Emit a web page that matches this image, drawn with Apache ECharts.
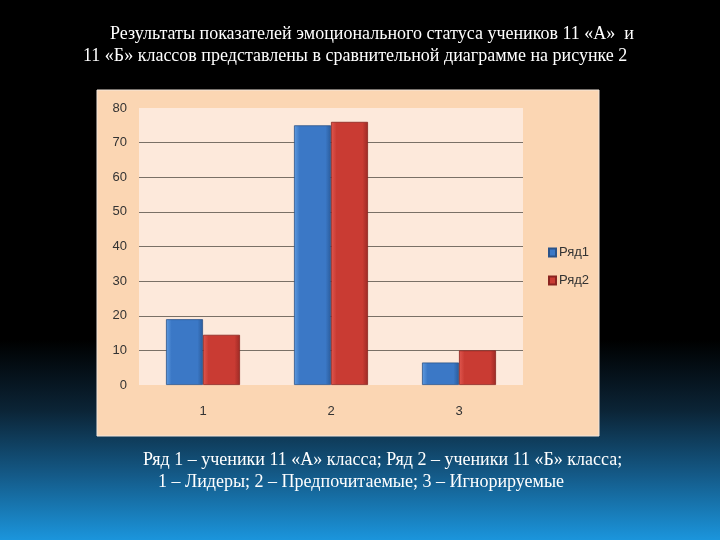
<!DOCTYPE html>
<html>
<head>
<meta charset="utf-8">
<script src="https://cdn.jsdelivr.net/npm/echarts@6/dist/echarts.min.js"></script>
<style>
html,body{margin:0;padding:0;width:720px;height:540px;overflow:hidden;background:#000;}
#c{width:720px;height:540px;}
</style>
</head>
<body>
<div id="c"></div>
<script>
var categories = ['1', '2', '3'];
var seriesNames = ['Ряд1', 'Ряд2'];
var row1 = [19, 75, 6.5];
var row2 = [14.5, 76, 10];
var yTicks = [0, 10, 20, 30, 40, 50, 60, 70, 80];
var titleLines = [
  'Результаты показателей эмоционального статуса учеников 11 «А»  и',
  '11 «Б» классов представлены в сравнительной диаграмме на рисунке 2'
];
var noteLines = [
  'Ряд 1 – ученики 11 «А» класса; Ряд 2 – ученики 11 «Б» класса;',
  '1 – Лидеры; 2 – Предпочитаемые; 3 – Игнорируемые'
];

var chart = echarts.init(document.getElementById('c'), null, {renderer: 'canvas'});

function grad(c1, c2, c3) {
  return new echarts.graphic.LinearGradient(0, 0, 1, 0, [
    {offset: 0, color: c1}, {offset: 0.15, color: c2}, {offset: 0.85, color: c2}, {offset: 1, color: c3}
  ]);
}

var gridColors = yTicks.map(function (v, i) {
  return (i === 0 || i === yTicks.length - 1) ? 'rgba(0,0,0,0)' : '#7a7066';
});

var option = {
  backgroundColor: new echarts.graphic.LinearGradient(0, 0, 0, 1, [
    {offset: 0, color: '#000000'},
    {offset: 0.63, color: '#000000'},
    {offset: 0.76, color: '#0b2436'},
    {offset: 0.88, color: '#145a88'},
    {offset: 1, color: '#1b95dc'}
  ]),
  animation: false,
  graphic: [
    {type: 'rect', z: -10, shape: {x: 97, y: 90, width: 502, height: 346}, style: {fill: '#fbd6b3', stroke: '#f3e6dc', lineWidth: 1}},
    {type: 'text', x: 110, y: 34, style: {text: titleLines[0], fill: '#ffffff', font: '18px "Liberation Serif"', verticalAlign: 'middle'}},
    {type: 'text', x: 83, y: 56, style: {text: titleLines[1], fill: '#ffffff', font: '18px "Liberation Serif"', verticalAlign: 'middle'}},
    {type: 'text', x: 143, y: 460, style: {text: noteLines[0], fill: '#ffffff', font: '18px "Liberation Serif"', verticalAlign: 'middle'}},
    {type: 'text', x: 158, y: 482, style: {text: noteLines[1], fill: '#ffffff', font: '18px "Liberation Serif"', verticalAlign: 'middle'}}
  ],
  legend: {
    orient: 'vertical',
    left: 543,
    top: 241,
    itemWidth: 7,
    itemHeight: 8,
    itemGap: 15,
    icon: 'rect',
    data: seriesNames,
    textStyle: {color: '#333', fontSize: 13, fontFamily: 'Liberation Sans', padding: [0, 0, 0, -2]}
  },
  grid: {
    left: 139, right: 197, top: 108, bottom: 155,
    show: true, backgroundColor: '#fde9db', borderWidth: 0
  },
  xAxis: {
    type: 'category',
    data: categories,
    axisLine: {show: false},
    axisTick: {show: false},
    axisLabel: {color: '#333', fontSize: 13, fontFamily: 'Liberation Sans', margin: 20}
  },
  yAxis: {
    type: 'value',
    min: yTicks[0],
    max: yTicks[yTicks.length - 1],
    interval: 10,
    axisLine: {show: false},
    axisTick: {show: false},
    axisLabel: {color: '#333', fontSize: 13, fontFamily: 'Liberation Sans', margin: 12},
    splitLine: {show: true, lineStyle: {color: gridColors, width: 1}}
  },
  series: [
    {
      name: seriesNames[0], type: 'bar', data: row1, barWidth: 37, barGap: '0%',
      itemStyle: {color: grad('#5f9be0', '#3b78c6', '#2a5c9c'), borderColor: '#2b5389', borderWidth: 0.8},
      emphasis: {disabled: true}
    },
    {
      name: seriesNames[1], type: 'bar', data: row2, barWidth: 37,
      itemStyle: {color: grad('#e0574f', '#c93b33', '#9c2a25'), borderColor: '#8a2420', borderWidth: 0.8},
      emphasis: {disabled: true}
    }
  ],
  color: ['#3b78c6', '#c93b33']
};
chart.setOption(option);
</script>
</body>
</html>
